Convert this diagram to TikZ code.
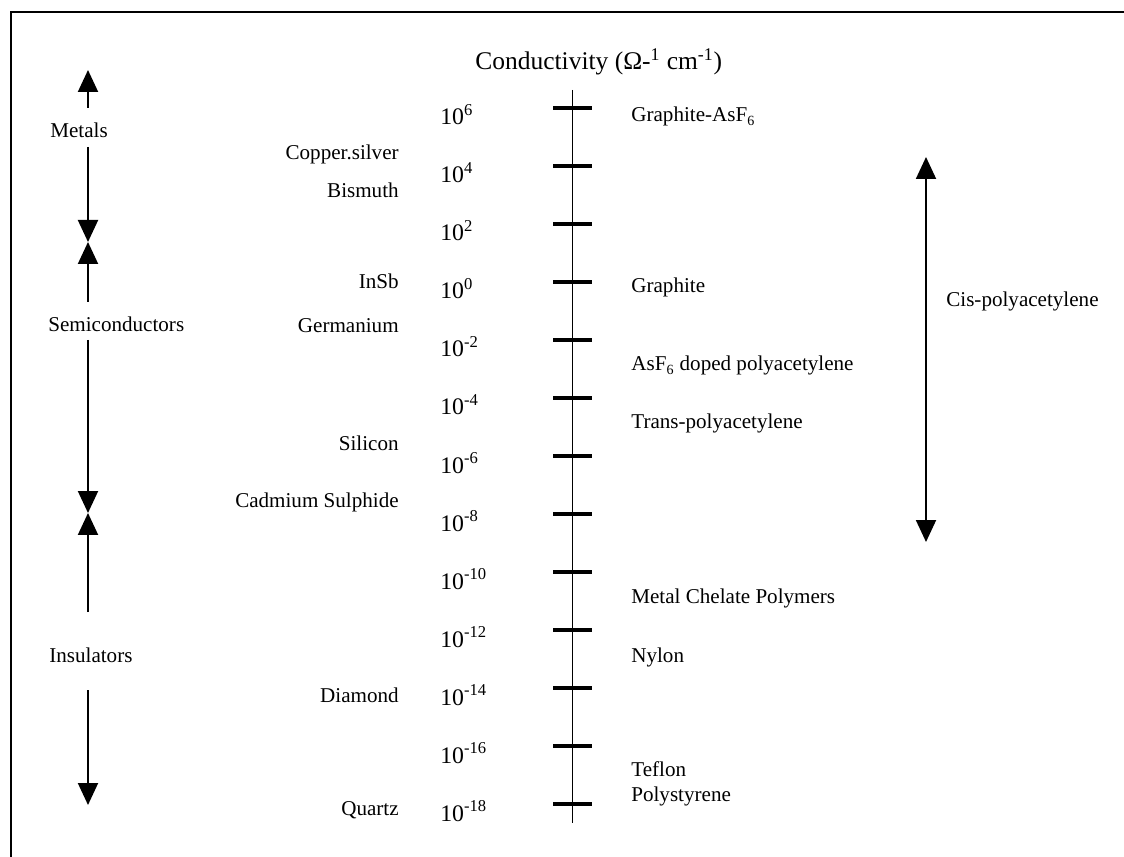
\documentclass[tikz,border=0pt]{standalone}
\usepackage{fontspec}
\setmainfont{Liberation Serif}
\usepackage{tikz}
\usetikzlibrary{arrows.meta,positioning}

\begin{document}
\begin{tikzpicture}[x=0.02cm,y=-0.02cm,
    lab/.style={inner sep=0pt,font=\fontsize{12pt}{14pt}\selectfont},
    num/.style={inner sep=0pt,anchor=base west,font=\fontsize{13.5pt}{16pt}\selectfont},
    tick/.style={line width=1.9pt},
    band/.style={line width=1.1pt,-{Triangle[width=0.4cm,length=0.44cm]}},
    dband/.style={line width=1.1pt,{Triangle[width=0.4cm,length=0.44cm]}-{Triangle[width=0.4cm,length=0.44cm]}}]
    \useasboundingbox (0,0) rectangle (1124,857);
    % frame
    \draw[line width=1.3pt] (1124,12) -- (11,12) -- (11,857);

    \node[lab,anchor=base west,font=\fontsize{14.5pt}{17pt}\selectfont] (title) at (475,70)
        {Conductivity (Ω-\textsuperscript{1} cm\textsuperscript{-1})};

    % scale
    \coordinate (axtop) at (572,90);
    \coordinate (axbot) at (572,823);
    \draw[line width=0.5pt] (axtop) -- (axbot);
    \coordinate (t6) at (572,108);
    \coordinate (t4) at (572,166);
    \coordinate (t2) at (572,224);
    \coordinate (t0) at (572,282);
    \coordinate (tm2) at (572,340);
    \coordinate (tm4) at (572,398);
    \coordinate (tm6) at (572,456);
    \coordinate (tm8) at (572,514);
    \coordinate (tm10) at (572,572);
    \coordinate (tm12) at (572,630);
    \coordinate (tm14) at (572,688);
    \coordinate (tm16) at (572,746);
    \coordinate (tm18) at (572,804);
    \draw[tick] (t6) ++(-19,0) -- ++(39,0);
    \draw[tick] (t4) ++(-19,0) -- ++(39,0);
    \draw[tick] (t2) ++(-19,0) -- ++(39,0);
    \draw[tick] (t0) ++(-19,0) -- ++(39,0);
    \draw[tick] (tm2) ++(-19,0) -- ++(39,0);
    \draw[tick] (tm4) ++(-19,0) -- ++(39,0);
    \draw[tick] (tm6) ++(-19,0) -- ++(39,0);
    \draw[tick] (tm8) ++(-19,0) -- ++(39,0);
    \draw[tick] (tm10) ++(-19,0) -- ++(39,0);
    \draw[tick] (tm12) ++(-19,0) -- ++(39,0);
    \draw[tick] (tm14) ++(-19,0) -- ++(39,0);
    \draw[tick] (tm16) ++(-19,0) -- ++(39,0);
    \draw[tick] (tm18) ++(-19,0) -- ++(39,0);

    \node[num] (n6) at (440,125) {10\textsuperscript{6}};
    \node[num] (n4) at (440,183) {10\textsuperscript{4}};
    \node[num] (n2) at (440,241) {10\textsuperscript{2}};
    \node[num] (n0) at (440,299) {10\textsuperscript{0}};
    \node[num] (nm2) at (440,357) {10\textsuperscript{-2}};
    \node[num] (nm4) at (440,415) {10\textsuperscript{-4}};
    \node[num] (nm6) at (440,473) {10\textsuperscript{-6}};
    \node[num] (nm8) at (440,531) {10\textsuperscript{-8}};
    \node[num] (nm10) at (440,589) {10\textsuperscript{-10}};
    \node[num] (nm12) at (440,647) {10\textsuperscript{-12}};
    \node[num] (nm14) at (440,705) {10\textsuperscript{-14}};
    \node[num] (nm16) at (440,763) {10\textsuperscript{-16}};
    \node[num] (nm18) at (440,821) {10\textsuperscript{-18}};

    % polymers
    \node[lab,anchor=base west] (grasf) at (631,122) {Graphite-AsF\textsubscript{6}};
    \node[lab,anchor=base west] (graphite) at (631,293) {Graphite};
    \node[lab,anchor=base west] (doped) at (631,371) {AsF\textsubscript{6} doped polyacetylene};
    \node[lab,anchor=base west] (trans) at (631,428) {Trans-polyacetylene};
    \node[lab,anchor=base west] (chelate) at (631,603) {Metal Chelate Polymers};
    \node[lab,anchor=base west] (nylon) at (631,662) {Nylon};
    \node[lab,anchor=base west] (teflon) at (631,776) {Teflon};
    \node[lab,anchor=base west] (polysty) at (631,801) {Polystyrene};

    % inorganic materials
    \node[lab,anchor=base east] (copper) at (399,160) {Copper.silver};
    \node[lab,anchor=base east] (bismuth) at (399,198) {Bismuth};
    \node[lab,anchor=base east] (insb) at (399,289) {InSb};
    \node[lab,anchor=base east] (germ) at (399,333) {Germanium};
    \node[lab,anchor=base east] (silicon) at (399,450) {Silicon};
    \node[lab,anchor=base east] (cds) at (399,507) {Cadmium Sulphide};
    \node[lab,anchor=base east] (diamond) at (399,702) {Diamond};
    \node[lab,anchor=base east] (quartz) at (399,815) {Quartz};

    % classes
    \node[lab,anchor=base west] (metals) at (50,138) {Metals};
    \node[lab,anchor=base west] (semi) at (48,332) {Semiconductors};
    \node[lab,anchor=base west] (ins) at (49,662) {Insulators};
    \coordinate (metTop) at (88,70);
    \coordinate (metA) at (88,108);
    \coordinate (metB) at (88,147);
    \coordinate (ms) at (88,242);
    \coordinate (semA) at (88,302);
    \coordinate (semB) at (88,340);
    \coordinate (si) at (88,513);
    \coordinate (insA) at (88,612);
    \coordinate (insB) at (88,690);
    \coordinate (insBot) at (88,805);
    \draw[band] (metA) -- (metTop);
    \draw[band] (metB) -- (ms);
    \draw[band] (semA) -- (ms);
    \draw[band] (semB) -- (si);
    \draw[band] (insA) -- (si);
    \draw[band] (insB) -- (insBot);

    \coordinate (cisTop) at (926,157);
    \coordinate (cisBot) at (926,542);
    \draw[dband] (cisTop) -- (cisBot);
    \node[lab,anchor=base west] (cis) at (946,307) {Cis-polyacetylene};
\end{tikzpicture}
\end{document}
